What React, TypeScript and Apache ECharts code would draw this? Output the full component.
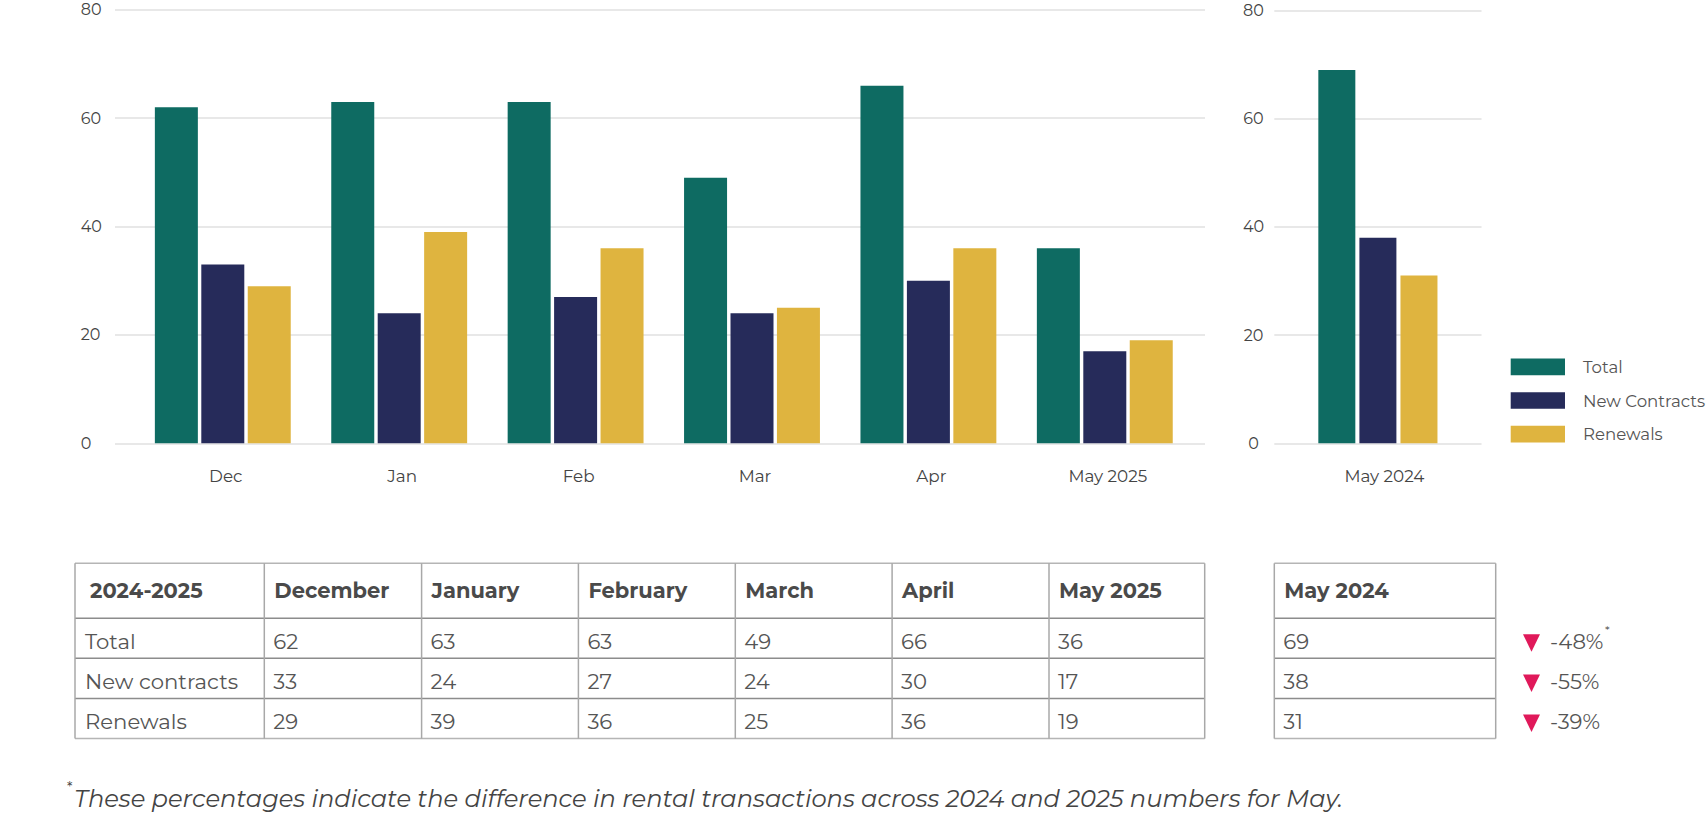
import React, { useEffect, useRef } from "react";
import * as echarts from "echarts";

// ---------- data ----------
const months = ["Dec", "Jan", "Feb", "Mar", "Apr", "May 2025"];
const totalValues = [62, 63, 63, 49, 66, 36];
const newContractValues = [33, 24, 27, 24, 30, 17];
const renewalValues = [29, 39, 36, 25, 36, 19];

const compareCategory = ["May 2024"];
const totalPrev = [69];
const newContractPrev = [38];
const renewalPrev = [31];

const seriesNames = ["Total", "New Contracts", "Renewals"];
const yMin = 0;
const yMax = 80;
const yInterval = 20;

const tableHeader = ["2024-2025", "December", "January", "February", "March", "April", "May 2025"];
const rowLabels = ["Total", "New contracts", "Renewals"];
const prevHeader = "May 2024";
const changeLabels = ["-48%", "-55%", "-39%"];
const footnote =
  "These percentages indicate the difference in rental transactions across 2024 and 2025 numbers for May.";

// ---------- styles ----------
const FONT = "Montserrat, Inter, sans-serif";
const C_TOTAL = "#0e6b62";
const C_NEW = "#262b5a";
const C_REN = "#dfb43f";
const GRID_LINE = "#e8e8e8";
const TEXT = "#444";
const TABLE_TEXT = "#555";

function buildTable(): any[] {
  const els: any[] = [];
  const colX = [75, 264.3, 421.6, 578.4, 735.3, 892.1, 1049, 1204.7];
  const rowY = [563.3, 618.3, 658.3, 698.5, 738.6];
  const prevX = [1274.3, 1495.7];
  const rows = [totalValues, newContractValues, renewalValues];
  const prevRows = [totalPrev, newContractPrev, renewalPrev];

  const hline = (x1: number, x2: number, y: number, color: string) => ({
    type: "line",
    shape: { x1, y1: y, x2, y2: y },
    style: { stroke: color, lineWidth: 1.5 },
    silent: true,
  });
  const vline = (x: number, y1: number, y2: number) => ({
    type: "line",
    shape: { x1: x, y1, x2: x, y2 },
    style: { stroke: "#a8a8a8", lineWidth: 1.5 },
    silent: true,
  });
  const txt = (x: number, y: number, text: string, bold: boolean, size = 21.2) => ({
    type: "text",
    x,
    y,
    silent: true,
    style: {
      text,
      fill: bold ? "#4a4a4a" : TABLE_TEXT,
      fontSize: bold ? 21 : size,
      fontWeight: bold ? "bold" : "normal",
      fontFamily: FONT,
      align: "left",
      verticalAlign: "middle",
    },
  });

  rowY.forEach((y, i) => {
    const color = i === 0 || i === rowY.length - 1 ? "#b5b5b5" : "#8c8c8c";
    els.push(hline(colX[0], colX[colX.length - 1], y, color));
    els.push(hline(prevX[0], prevX[1], y, color));
  });
  colX.forEach((x) => els.push(vline(x, rowY[0], rowY[rowY.length - 1])));
  prevX.forEach((x) => els.push(vline(x, rowY[0], rowY[rowY.length - 1])));

  const headerY = (rowY[0] + rowY[1]) / 2;
  tableHeader.forEach((h, i) => {
    els.push(txt(colX[i] + (i === 0 ? 15 : 10), headerY, h, true));
  });
  els.push(txt(prevX[0] + 10, headerY, prevHeader, true));

  rowLabels.forEach((label, r) => {
    const cy = (rowY[r + 1] + rowY[r + 2]) / 2 + 2.5;
    els.push(txt(colX[0] + 10, cy, label, false));
    rows[r].forEach((v, c) => {
      els.push(txt(colX[c + 1] + 9, cy, String(v), false));
    });
    els.push(txt(prevX[0] + 9, cy, String(prevRows[r][0]), false));
    // change indicator
    els.push({
      type: "polygon",
      silent: true,
      shape: {
        points: [
          [1523, cy - 6.5],
          [1540, cy - 6.5],
          [1531.5, cy + 11],
        ],
      },
      style: { fill: "#e0195a" },
    });
    els.push(txt(1550, cy, changeLabels[r], false));
    if (r === 0) {
      els.push({
        type: "text",
        x: 1605,
        y: cy - 11,
        silent: true,
        style: { text: "*", fill: TABLE_TEXT, fontSize: 12, fontFamily: FONT, align: "left", verticalAlign: "middle" },
      });
    }
  });

  // footnote
  els.push({
    type: "text",
    x: 67,
    y: 787,
    silent: true,
    style: { text: "*", fill: TEXT, fontSize: 14, fontFamily: FONT, align: "left", verticalAlign: "middle" },
  });
  els.push({
    type: "text",
    x: 74,
    y: 798,
    silent: true,
    style: {
      text: footnote,
      fill: TEXT,
      fontSize: 24.2,
      fontStyle: "italic",
      fontFamily: FONT,
      align: "left",
      verticalAlign: "middle",
    },
  });
  return els;
}

export default function App() {
  const ref = useRef<HTMLDivElement>(null);

  useEffect(() => {
    if (!ref.current) return;
    const chart = echarts.init(ref.current, null, { renderer: "svg", width: 1708, height: 820 });

    const yLabelBase = { color: TEXT, fontSize: 16, fontFamily: FONT };
    const xLabelBase = { color: TEXT, fontSize: 16.8, fontFamily: FONT };
    const option: any = {
      animation: false,
      backgroundColor: "#fff",
      textStyle: { fontFamily: FONT },
      grid: [
        { left: 115, top: 9.8, width: 1090, height: 433.5 },
        { left: 134.6, top: 9.8, width: 1058.4, height: 433.5 },
        { left: 1274.3, top: 10.5, width: 207.2, height: 432.8 },
      ],
      xAxis: [
        { gridIndex: 0, type: "value", show: false, min: 0, max: 1 },
        {
          gridIndex: 1,
          type: "category",
          data: months,
          axisLine: { show: false },
          axisTick: { show: false },
          axisLabel: { ...xLabelBase, margin: 24, padding: [0, 0, 0, 6] },
        },
        {
          gridIndex: 2,
          type: "category",
          data: compareCategory,
          axisLine: { show: false },
          axisTick: { show: false },
          axisLabel: { ...xLabelBase, margin: 24, padding: [0, 0, 0, 13] },
        },
      ],
      yAxis: [
        {
          gridIndex: 0,
          type: "value",
          min: yMin,
          max: yMax,
          interval: yInterval,
          axisLine: { show: false },
          axisTick: { show: false },
          splitLine: { lineStyle: { color: GRID_LINE, width: 2 } },
          axisLabel: { ...yLabelBase, align: "left", margin: 34.3 },
        },
        {
          gridIndex: 1,
          type: "value",
          min: yMin,
          max: yMax,
          interval: yInterval,
          show: false,
          splitLine: { show: false },
        },
        {
          gridIndex: 2,
          type: "value",
          min: yMin,
          max: yMax,
          interval: yInterval,
          axisLine: { show: false },
          axisTick: { show: false },
          splitLine: { lineStyle: { color: GRID_LINE, width: 2 } },
          axisLabel: { ...yLabelBase, align: "center", margin: 20.8 },
        },
      ],
      legend: {
        orient: "vertical",
        left: 1510.7,
        top: 358.3,
        padding: 0,
        itemWidth: 54.3,
        itemHeight: 16.7,
        itemGap: 16.7,
        icon: "rect",
        data: seriesNames,
        textStyle: { fontSize: 16.6, color: "#555", fontFamily: FONT, padding: [0, 0, 0, 13], lineHeight: 16.7 },
      },
      series: [
        { name: seriesNames[0], type: "bar", xAxisIndex: 1, yAxisIndex: 1, data: totalValues, barWidth: 43, barGap: "8%", itemStyle: { color: C_TOTAL } },
        { name: seriesNames[1], type: "bar", xAxisIndex: 1, yAxisIndex: 1, data: newContractValues, barWidth: 43, barGap: "8%", itemStyle: { color: C_NEW } },
        { name: seriesNames[2], type: "bar", xAxisIndex: 1, yAxisIndex: 1, data: renewalValues, barWidth: 43, barGap: "8%", itemStyle: { color: C_REN } },
        { name: seriesNames[0], type: "bar", xAxisIndex: 2, yAxisIndex: 2, data: totalPrev, barWidth: 37, barGap: "11%", itemStyle: { color: C_TOTAL } },
        { name: seriesNames[1], type: "bar", xAxisIndex: 2, yAxisIndex: 2, data: newContractPrev, barWidth: 37, barGap: "11%", itemStyle: { color: C_NEW } },
        { name: seriesNames[2], type: "bar", xAxisIndex: 2, yAxisIndex: 2, data: renewalPrev, barWidth: 37, barGap: "11%", itemStyle: { color: C_REN } },
      ],
      graphic: buildTable(),
    };

    chart.setOption(option);
    return () => chart.dispose();
  }, []);

  return (
    <div
      ref={ref}
      style={{ position: "absolute", left: 0, top: 0, width: 1708, height: 820, background: "#fff" }}
    />
  );
}
